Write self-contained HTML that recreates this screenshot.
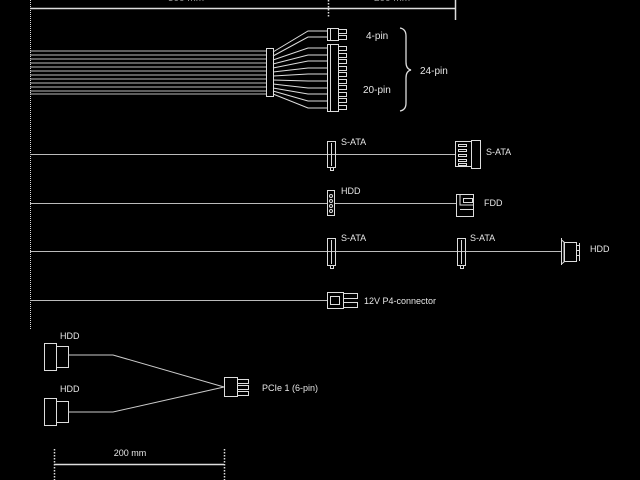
<!DOCTYPE html>
<html><head><style>
html,body{margin:0;padding:0;background:#000;}
svg{display:block}
text{font-family:"Liberation Sans",sans-serif;fill:#e6e6e6;font-size:10px}
</style></head><body>
<svg width="640" height="480" viewBox="0 0 640 480" xmlns="http://www.w3.org/2000/svg">
<g stroke="#ddd" fill="none" stroke-width="1">
<!-- top dimension -->
<line x1="30" y1="8.5" x2="455" y2="8.5" stroke-width="1.5"/>
<line x1="455.5" y1="0" x2="455.5" y2="20" stroke-width="1.5"/>
<line x1="328.5" y1="0" x2="328.5" y2="18" stroke-dasharray="1.5,1.5" stroke-width="1.5"/>
<line x1="30.5" y1="0" x2="30.5" y2="330" stroke-dasharray="1,1"/>
<!-- 24 pin wires -->
<g stroke="#bbb">
<line x1="30" y1="51" x2="266" y2="51"/><line x1="30" y1="55" x2="266" y2="55"/>
<line x1="30" y1="59" x2="266" y2="59"/><line x1="30" y1="63" x2="266" y2="63"/>
<line x1="30" y1="67" x2="266" y2="67"/><line x1="30" y1="71" x2="266" y2="71"/>
<line x1="30" y1="75" x2="266" y2="75"/><line x1="30" y1="79" x2="266" y2="79"/>
<line x1="30" y1="83" x2="266" y2="83"/><line x1="30" y1="87" x2="266" y2="87"/>
<line x1="30" y1="91" x2="266" y2="91"/><line x1="30" y1="94" x2="266" y2="94"/>
</g>
<rect x="266.5" y="48.5" width="7" height="48"/>
<polyline points="273,52 308,31 327,31"/>
<polyline points="273,56 308,37 327,37"/>
<polyline points="273,60 308,48 327,48"/>
<polyline points="273,64 308,55 327,55"/>
<polyline points="273,68 308,61 327,61"/>
<polyline points="273,72 308,68 327,68"/>
<polyline points="273,76 308,74 327,74"/>
<polyline points="273,80 308,81 327,81"/>
<polyline points="273,84 308,88 327,88"/>
<polyline points="273,88 308,94 327,94"/>
<polyline points="273,91 308,101 327,101"/>
<polyline points="273,94 308,108 327,108"/>
<rect x="327.5" y="28.5" width="11" height="12"/>
<line x1="330.5" y1="28" x2="330.5" y2="41"/>
<rect x="338.5" y="29.5" width="8" height="4"/><rect x="338.5" y="35.5" width="8" height="4"/>
<rect x="327.5" y="44.5" width="11" height="67"/>
<line x1="330.5" y1="44" x2="330.5" y2="112"/>
<rect x="338.5" y="46.5" width="8" height="4"/><rect x="338.5" y="53.5" width="8" height="4"/>
<rect x="338.5" y="59.5" width="8" height="4"/><rect x="338.5" y="66.5" width="8" height="4"/>
<rect x="338.5" y="72.5" width="8" height="4"/><rect x="338.5" y="79.5" width="8" height="4"/>
<rect x="338.5" y="85.5" width="8" height="4"/><rect x="338.5" y="92.5" width="8" height="4"/>
<rect x="338.5" y="98.5" width="8" height="4"/><rect x="338.5" y="105.5" width="8" height="4"/>
<path d="M400,28 Q406,29 406,36 L406,62 Q406,69 411,70 Q406,71 406,78 L406,103 Q406,110 400,111" stroke-width="1.3"/>
<!-- SATA row -->
<line x1="30" y1="154.5" x2="455" y2="154.5" stroke="#bbb"/>
<rect x="327.5" y="141.5" width="8" height="26"/><line x1="331.5" y1="143" x2="331.5" y2="166"/>
<rect x="330.5" y="167.5" width="3" height="3"/>
<rect x="455.5" y="141.5" width="16" height="25"/>
<rect x="471.5" y="140.5" width="9" height="28"/>
<rect x="458.5" y="144.5" width="8" height="2"/><rect x="458.5" y="149.5" width="8" height="2"/>
<rect x="458.5" y="154.5" width="8" height="2"/><rect x="458.5" y="159.5" width="8" height="2"/>
<rect x="458.5" y="163.5" width="8" height="2"/>
<!-- HDD/FDD row -->
<line x1="30" y1="203.5" x2="456" y2="203.5" stroke="#bbb"/>
<rect x="327.5" y="190.5" width="7" height="25" fill="#000"/>
<circle cx="331" cy="196" r="1.5"/><circle cx="331" cy="201" r="1.5"/><circle cx="331" cy="206" r="1.5"/><circle cx="331" cy="211" r="1.5"/>
<rect x="456.5" y="194.5" width="17" height="22"/>
<polyline points="460,195 460,205 473,205"/><rect x="463.5" y="198.5" width="9" height="4"/>
<line x1="460" y1="209.5" x2="473" y2="209.5"/>
<!-- third row -->
<line x1="30" y1="251.5" x2="561" y2="251.5" stroke="#bbb"/>
<rect x="327.5" y="238.5" width="8" height="27"/><line x1="331.5" y1="240" x2="331.5" y2="264"/>
<rect x="330.5" y="265.5" width="3" height="3"/>
<rect x="457.5" y="238.5" width="8" height="27"/><line x1="461.5" y1="240" x2="461.5" y2="264"/>
<rect x="460.5" y="265.5" width="3" height="3"/>
<path d="M561.5,238 L561.5,265 M561.5,240 L564,242 L564,262 L561.5,264"/>
<rect x="564.5" y="242.5" width="12" height="19"/>
<line x1="576" y1="245.5" x2="580" y2="245.5"/><line x1="576" y1="250.5" x2="580" y2="250.5"/>
<line x1="576" y1="255.5" x2="580" y2="255.5"/><line x1="579.5" y1="243" x2="579.5" y2="261"/>
<!-- P4 row -->
<line x1="30" y1="300.5" x2="327" y2="300.5" stroke="#bbb"/>
<rect x="327.5" y="292.5" width="16" height="16"/><rect x="330.5" y="296.5" width="9" height="8"/>
<rect x="343.5" y="293.5" width="14" height="5"/><rect x="343.5" y="302.5" width="14" height="5"/>
<!-- PCIe split -->
<rect x="44.5" y="343.5" width="12" height="27"/><rect x="56.5" y="346.5" width="12" height="21"/>
<rect x="44.5" y="398.5" width="12" height="27"/><rect x="56.5" y="401.5" width="12" height="21"/>
<polyline points="68,355 113,355 224,387" stroke="#ccc"/>
<polyline points="68,412 113,412 224,387" stroke="#ccc"/>
<rect x="224.5" y="377.5" width="13" height="19"/>
<rect x="237.5" y="379.5" width="11" height="4"/><rect x="237.5" y="385.5" width="11" height="4"/><rect x="237.5" y="391.5" width="11" height="4"/>
<!-- bottom dimension -->
<line x1="54" y1="464.5" x2="224" y2="464.5" stroke-width="1.5"/>
<line x1="54.5" y1="449" x2="54.5" y2="480" stroke-dasharray="1.5,1.5" stroke-width="1.5"/>
<line x1="224.5" y1="449" x2="224.5" y2="480" stroke-dasharray="1.5,1.5" stroke-width="1.5"/>
</g>
<text x="186" y="1" text-anchor="middle" style="fill:#999">500 mm</text>
<text x="392" y="1" text-anchor="middle" style="fill:#999">200 mm</text>
<text x="366" y="39">4-pin</text>
<text x="363" y="93">20-pin</text>
<text x="420" y="74">24-pin</text>
<text x="341" y="145" style="font-size:9px">S-ATA</text>
<text x="486" y="155" style="font-size:9px">S-ATA</text>
<text x="341" y="194" style="font-size:9px">HDD</text>
<text x="484" y="206" style="font-size:9px">FDD</text>
<text x="341" y="241" style="font-size:9px">S-ATA</text>
<text x="470" y="241" style="font-size:9px">S-ATA</text>
<text x="590" y="252" style="font-size:9px">HDD</text>
<text x="364" y="304" style="font-size:9px">12V P4-connector</text>
<text x="60" y="339" style="font-size:9px">HDD</text>
<text x="60" y="392" style="font-size:9px">HDD</text>
<text x="262" y="391" style="font-size:9px">PCIe 1 (6-pin)</text>
<text x="130" y="456" text-anchor="middle" style="font-size:9px">200 mm</text>
</svg>
</body></html>
